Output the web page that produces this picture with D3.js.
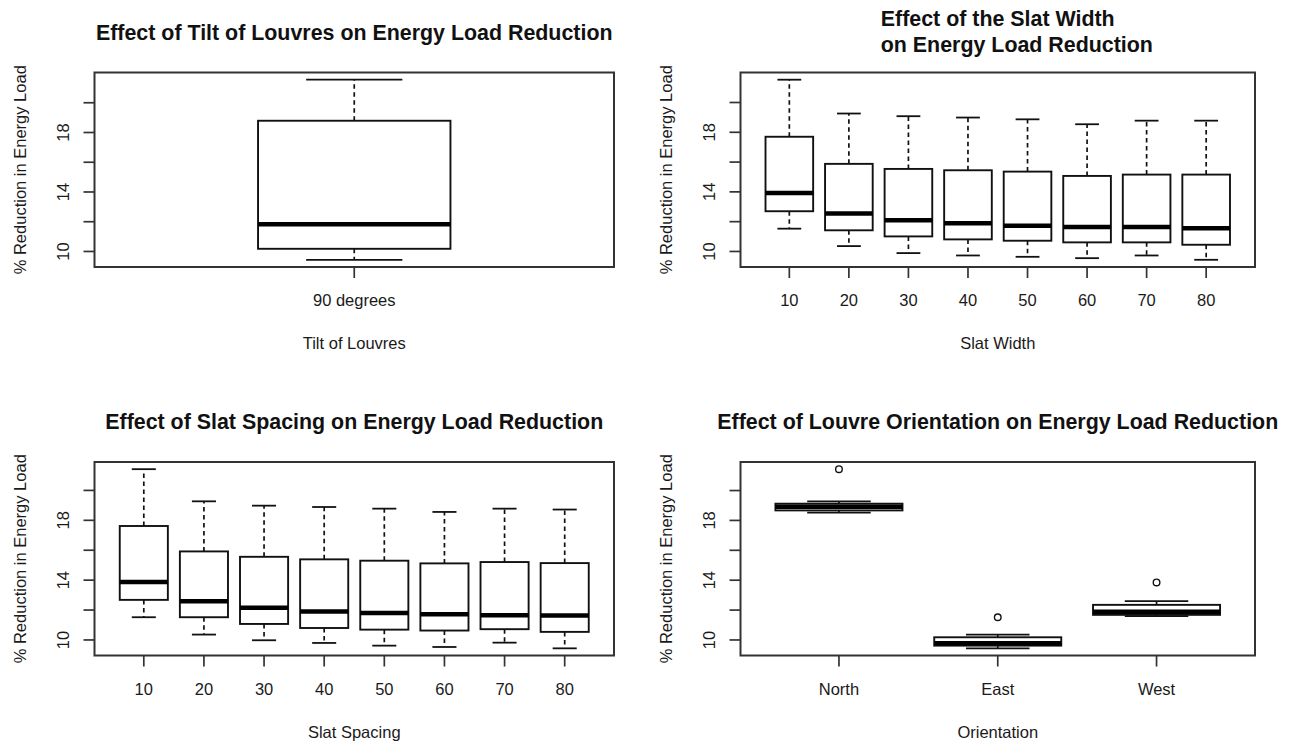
<!DOCTYPE html>
<html>
<head>
<meta charset="utf-8">
<script src="https://cdn.jsdelivr.net/npm/d3@7"></script>
<style>
  html, body { margin: 0; padding: 0; background: #fff; }
  svg { display: block; font-family: "Liberation Sans", Arial, sans-serif; }
</style>
</head>
<body>
<svg id="chart" width="1295" height="744"></svg>
<script>
// ---------------- DATA ----------------
const yTickValues = [10, 12, 14, 16, 18, 20];
const yTickLabels = ["10", "", "14", "", "18", ""];
const yAxisLabel = "% Reduction in Energy Load";

// Panel 1: Tilt of Louvres
const tiltCategories = ["90 degrees"];
const tiltLow  = [9.44];
const tiltQ1   = [10.18];
const tiltMed  = [11.83];
const tiltQ3   = [18.79];
const tiltHigh = [21.55];
const tiltOut  = [[]];

// Panel 2: Slat Width
const widthCategories = ["10", "20", "30", "40", "50", "60", "70", "80"];
const widthLow  = [11.53, 10.36, 9.89, 9.73, 9.64, 9.55, 9.73, 9.44];
const widthQ1   = [12.70, 11.42, 11.01, 10.81, 10.72, 10.61, 10.61, 10.45];
const widthMed  = [13.92, 12.55, 12.09, 11.89, 11.73, 11.64, 11.64, 11.55];
const widthQ3   = [17.70, 15.88, 15.54, 15.45, 15.36, 15.07, 15.16, 15.16];
const widthHigh = [21.53, 19.26, 19.08, 18.99, 18.87, 18.54, 18.78, 18.78];
const widthOut  = [[], [], [], [], [], [], [], []];

// Panel 3: Slat Spacing
const spacingCategories = ["10", "20", "30", "40", "50", "60", "70", "80"];
const spacingLow  = [11.52, 10.36, 9.98, 9.80, 9.62, 9.53, 9.82, 9.44];
const spacingQ1   = [12.68, 11.52, 11.07, 10.80, 10.69, 10.63, 10.72, 10.54];
const spacingMed  = [13.87, 12.59, 12.15, 11.90, 11.81, 11.72, 11.65, 11.63];
const spacingQ3   = [17.62, 15.92, 15.56, 15.39, 15.30, 15.12, 15.21, 15.14];
const spacingHigh = [21.42, 19.27, 18.98, 18.89, 18.78, 18.56, 18.78, 18.72];
const spacingOut  = [[], [], [], [], [], [], [], []];

// Panel 4: Orientation
const orientCategories = ["North", "East", "West"];
const orientLow  = [18.52, 9.44, 11.59];
const orientQ1   = [18.67, 9.62, 11.68];
const orientMed  = [18.92, 9.78, 11.88];
const orientQ3   = [19.12, 10.18, 12.35];
const orientHigh = [19.27, 10.36, 12.60];
const orientOut  = [[21.43], [11.52], [13.85]];

// ---------------- LAYOUT ----------------
const panels = [
  { title: ["Effect of Tilt of Louvres on Energy Load Reduction"], xlab: "Tilt of Louvres",
    cats: tiltCategories, low: tiltLow, q1: tiltQ1, med: tiltMed, q3: tiltQ3, high: tiltHigh, out: tiltOut,
    rect: { x0: 94.5, x1: 614, y0: 72.5, y1: 267 } },
  { title: ["Effect of the Slat Width", "on Energy Load Reduction"], xlab: "Slat Width",
    cats: widthCategories, low: widthLow, q1: widthQ1, med: widthMed, q3: widthQ3, high: widthHigh, out: widthOut,
    rect: { x0: 740.5, x1: 1255, y0: 72.5, y1: 267 } },
  { title: ["Effect of Slat Spacing on Energy Load Reduction"], xlab: "Slat Spacing",
    cats: spacingCategories, low: spacingLow, q1: spacingQ1, med: spacingMed, q3: spacingQ3, high: spacingHigh, out: spacingOut,
    rect: { x0: 94.5, x1: 614, y0: 462, y1: 655.5 } },
  { title: ["Effect of Louvre Orientation on Energy Load Reduction"], xlab: "Orientation",
    cats: orientCategories, low: orientLow, q1: orientQ1, med: orientMed, q3: orientQ3, high: orientHigh, out: orientOut,
    rect: { x0: 740.5, x1: 1255, y0: 462, y1: 655.5 } }
];

const svg = d3.select("#chart");
const ink = "#111";
const textCol = "#1a1a1a";
const TITLE_FS = 21.4, AXIS_FS = 16.5;

panels.forEach(p => {
  const r = p.rect;
  const n = p.cats.length;
  const g = svg.append("g");

  // y domain like R: data range extended by 4%
  const allVals = [].concat(p.low, p.high, ...p.out);
  const mn = d3.min(allVals), mx = d3.max(allVals);
  const ext = (mx - mn) * 0.04;
  const y = d3.scaleLinear().domain([mn - ext, mx + ext]).range([r.y1, r.y0]);
  // x limits like R's bxp: single box -> [0, 2], else [0.5, n + 0.5]; extended by 4%
  const xl = n === 1 ? [0, 2] : [0.5, n + 0.5];
  const xe = (xl[1] - xl[0]) * 0.04;
  const x = d3.scaleLinear().domain([xl[0] - xe, xl[1] + xe]).range([r.x0, r.x1]);
  const unit = x(1) - x(0);
  const bw = 0.8 * unit;   // box width
  const sw = bw / 2;       // staple width

  const idx = d3.range(n);

  // whiskers (dashed)
  g.selectAll(".wu").data(idx).join("line")
    .attr("x1", i => x(i + 1)).attr("x2", i => x(i + 1))
    .attr("y1", i => y(p.q3[i])).attr("y2", i => y(p.high[i]))
    .attr("stroke", ink).attr("stroke-width", 1.7).attr("stroke-dasharray", "4.5,3.5");
  g.selectAll(".wl").data(idx).join("line")
    .attr("x1", i => x(i + 1)).attr("x2", i => x(i + 1))
    .attr("y1", i => y(p.q1[i])).attr("y2", i => y(p.low[i]))
    .attr("stroke", ink).attr("stroke-width", 1.7).attr("stroke-dasharray", "4.5,3.5");
  // staples
  [p.high, p.low].forEach(arr => {
    g.selectAll(null).data(idx).join("line")
      .attr("x1", i => x(i + 1) - sw / 2).attr("x2", i => x(i + 1) + sw / 2)
      .attr("y1", i => y(arr[i])).attr("y2", i => y(arr[i]))
      .attr("stroke", ink).attr("stroke-width", 1.8);
  });
  // boxes
  g.selectAll(".box").data(idx).join("rect")
    .attr("x", i => x(i + 1) - bw / 2).attr("width", bw)
    .attr("y", i => y(p.q3[i])).attr("height", i => y(p.q1[i]) - y(p.q3[i]))
    .attr("fill", "none").attr("stroke", ink).attr("stroke-width", 1.9);
  // medians
  g.selectAll(".med").data(idx).join("line")
    .attr("x1", i => x(i + 1) - bw / 2).attr("x2", i => x(i + 1) + bw / 2)
    .attr("y1", i => y(p.med[i])).attr("y2", i => y(p.med[i]))
    .attr("stroke", "#000").attr("stroke-width", 4.5);
  // outliers
  const outPts = [];
  p.out.forEach((arr, i) => arr.forEach(v => outPts.push({ i, v })));
  g.selectAll(".out").data(outPts).join("circle")
    .attr("cx", d => x(d.i + 1)).attr("cy", d => y(d.v)).attr("r", 3.3)
    .attr("fill", "none").attr("stroke", ink).attr("stroke-width", 1.4);

  // frame
  g.append("rect").attr("x", r.x0).attr("y", r.y0)
    .attr("width", r.x1 - r.x0).attr("height", r.y1 - r.y0)
    .attr("fill", "none").attr("stroke", "#333").attr("stroke-width", 2);

  // x axis ticks + labels
  g.selectAll(".xt").data(idx).join("line")
    .attr("x1", i => x(i + 1)).attr("x2", i => x(i + 1))
    .attr("y1", r.y1).attr("y2", r.y1 + 11)
    .attr("stroke", "#333").attr("stroke-width", 1.7);
  g.selectAll(".xl").data(idx).join("text")
    .attr("x", i => x(i + 1)).attr("y", r.y1 + 39)
    .attr("text-anchor", "middle").attr("font-size", AXIS_FS).attr("fill", textCol)
    .text(i => p.cats[i]);

  // y axis ticks + labels
  const yt = yTickValues.map((v, k) => ({ v, lab: yTickLabels[k] }));
  g.selectAll(".yt").data(yt).join("line")
    .attr("x1", r.x0 - 11).attr("x2", r.x0)
    .attr("y1", d => y(d.v)).attr("y2", d => y(d.v))
    .attr("stroke", "#333").attr("stroke-width", 1.7);
  g.selectAll(".yl").data(yt.filter(d => d.lab !== "")).join("text")
    .attr("transform", d => `translate(${r.x0 - 25.5},${y(d.v)}) rotate(-90)`)
    .attr("text-anchor", "middle").attr("font-size", AXIS_FS).attr("fill", textCol)
    .text(d => d.lab);

  // axis titles
  g.append("text")
    .attr("x", (r.x0 + r.x1) / 2).attr("y", r.y1 + 82)
    .attr("text-anchor", "middle").attr("font-size", AXIS_FS).attr("fill", textCol)
    .text(p.xlab);
  g.append("text")
    .attr("transform", `translate(${r.x0 - 68.5},${(r.y0 + r.y1) / 2}) rotate(-90)`)
    .attr("text-anchor", "middle").attr("font-size", AXIS_FS).attr("fill", textCol)
    .text(yAxisLabel);

  // main title
  const cx = (r.x0 + r.x1) / 2;
  if (p.title.length === 1) {
    g.append("text").attr("x", cx).attr("y", r.y0 - 33)
      .attr("text-anchor", "middle").attr("font-size", TITLE_FS).attr("font-weight", "bold")
      .attr("fill", "#111").text(p.title[0]);
  } else {
    const t1 = g.append("text").attr("y", r.y0 - 46.5)
      .attr("font-size", TITLE_FS).attr("font-weight", "bold").attr("fill", "#111").text(p.title[0]);
    const w1 = t1.node().getComputedTextLength();
    const sx = cx - w1 / 2;
    t1.attr("x", sx);
    g.append("text").attr("x", sx).attr("y", r.y0 - 21)
      .attr("font-size", TITLE_FS).attr("font-weight", "bold").attr("fill", "#111").text(p.title[1]);
  }
});
</script>
</body>
</html>
